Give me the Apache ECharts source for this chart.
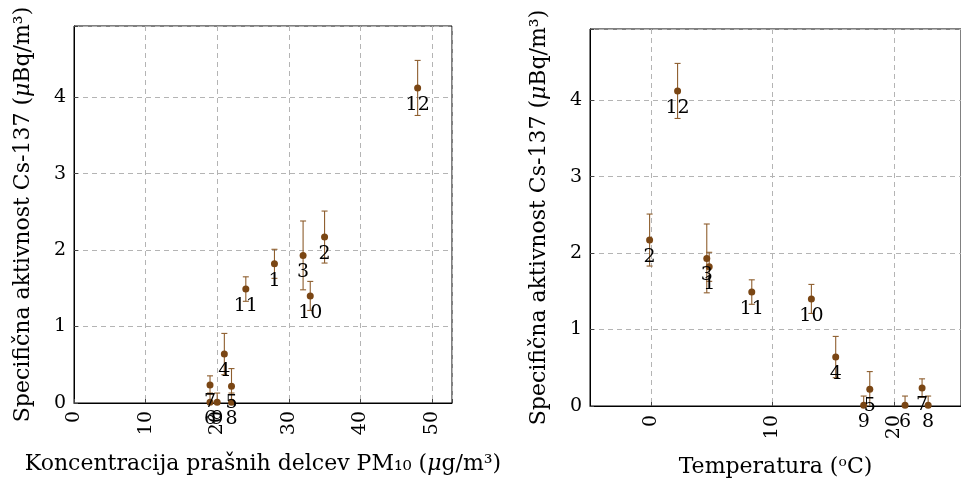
<!DOCTYPE html>
<html><head><meta charset="utf-8">
<script src="https://cdn.jsdelivr.net/npm/echarts@6/dist/echarts.min.js"></script>
<style>html,body{margin:0;padding:0;background:#fff}#c{width:961px;height:483px}</style>
</head><body><div id="c"></div>
<script>
// ---- data ----
const ids = ['1','2','3','4','5','6','7','8','9','10','11','12'];
const pm10 = [28, 35, 32, 21, 22, 19, 19, 22, 20, 33, 24, 48];
const temperature = [4.8, -0.1, 4.6, 15.2, 18.0, 20.9, 22.3, 22.8, 17.5, 13.2, 8.3, 2.2];
const activity = [1.82, 2.17, 1.93, 0.64, 0.22, 0.01, 0.235, 0.01, 0.01, 1.40, 1.49, 4.12];
const activityErr = [0.19, 0.34, 0.45, 0.27, 0.23, 0.12, 0.12, 0.12, 0.12, 0.19, 0.16, 0.36];
const pm10Ticks = [0, 10, 20, 30, 40, 50];
const tempTicks = [0, 10, 20];
const activityTicks = [0, 1, 2, 3, 4];

// ---- style ----
const FONT = 'DejaVu Serif';
const FS = 19;      // numbers
const TFS = 22;     // axis titles
const markerColor = '#7A4614';
const barColor = '#8E5E2E';
const gridLine = { show: true, lineStyle: { color: '#b4b4b4', type: [5, 4], width: 1 } };

const chart = echarts.init(document.getElementById('c'), null, { renderer: 'canvas' });

function errorBarItem(params, api) {
  const x = api.value(0), lo = api.value(1), hi = api.value(2);
  const top = api.coord([x, hi]);
  const bot = api.coord([x, lo]);
  const w = 3;
  const style = { stroke: barColor, lineWidth: 1.1 };
  return {
    type: 'group',
    children: [
      { type: 'line', shape: { x1: top[0], y1: top[1], x2: bot[0], y2: bot[1] }, style },
      { type: 'line', shape: { x1: top[0] - w, y1: top[1], x2: top[0] + w, y2: top[1] }, style },
      { type: 'line', shape: { x1: bot[0] - w, y1: bot[1], x2: bot[0] + w, y2: bot[1] }, style }
    ]
  };
}

function errData(xs) { return xs.map((x, i) => [x, activity[i] - activityErr[i], activity[i] + activityErr[i]]); }
function ptData(xs) { return xs.map((x, i) => ({ value: [x, activity[i]], name: ids[i] })); }

const yTitle = 'Specifična aktivnost Cs-137 ({i|μ}Bq/m³)';
const richI = { i: { fontStyle: 'italic', fontFamily: FONT, fontSize: TFS, color: '#000' } };
const titleStyle = { fontFamily: FONT, fontSize: TFS, color: '#000', rich: richI };

function yAxis(gridIndex) {
  return {
    gridIndex, type: 'value', min: 0, max: 4.93, interval: 1,
    name: yTitle, nameLocation: 'middle', nameGap: 40, nameRotate: 90,
    nameTextStyle: titleStyle,
    axisLine: { show: true, onZero: false, lineStyle: { color: '#000', width: 1 } },
    axisTick: { show: true, inside: true, length: 4, lineStyle: { color: '#444' } },
    axisLabel: { fontFamily: FONT, fontSize: FS, color: '#000', margin: 8,
      formatter: v => activityTicks.includes(v) ? String(v) : '' },
    splitLine: gridLine
  };
}

const option = {
  backgroundColor: '#fff',
  animation: false,
  grid: [
    { left: 74, top: 26, width: 378, height: 377, show: true, borderColor: '#000', borderWidth: 1, backgroundColor: 'transparent' },
    { left: 590, top: 29, width: 377, height: 377, show: true, borderColor: '#000', borderWidth: 1, backgroundColor: 'transparent' }
  ],
  xAxis: [
    {
      gridIndex: 0, type: 'value', min: 0, max: 52.8, interval: 10,
      name: 'Koncentracija prašnih delcev PM₁₀ ({i|μ}g/m³)', nameLocation: 'middle', nameGap: 50,
      nameTextStyle: titleStyle,
      axisLine: { show: true, onZero: false, lineStyle: { color: '#000', width: 1 } },
      axisTick: { show: true, inside: true, length: 4, lineStyle: { color: '#444' } },
      axisLabel: { rotate: 90, fontFamily: FONT, fontSize: FS, color: '#000', margin: 8,
        formatter: v => pm10Ticks.includes(v) ? String(v) : '' },
      splitLine: gridLine
    },
    {
      gridIndex: 1, type: 'value', min: -5, max: 25.5,
      name: 'Temperatura (ᵒC)', nameLocation: 'middle', nameGap: 50,
      nameTextStyle: titleStyle,
      axisLine: { show: true, onZero: false, lineStyle: { color: '#000', width: 1 } },
      axisTick: { show: true, inside: true, length: 4, customValues: tempTicks, lineStyle: { color: '#444' } },
      axisLabel: { rotate: 90, fontFamily: FONT, fontSize: FS, color: '#000', margin: 9, customValues: tempTicks },
      splitLine: gridLine
    }
  ],
  yAxis: [yAxis(0), yAxis(1)],
  series: [
    { type: 'custom', xAxisIndex: 0, yAxisIndex: 0, renderItem: errorBarItem, data: errData(pm10),
      encode: { x: 0, y: [1, 2] }, clip: true, z: 2, silent: true },
    { type: 'custom', xAxisIndex: 1, yAxisIndex: 1, renderItem: errorBarItem, data: errData(temperature),
      encode: { x: 0, y: [1, 2] }, clip: true, z: 2, silent: true },
    { type: 'scatter', xAxisIndex: 0, yAxisIndex: 0, data: ptData(pm10), symbolSize: 7,
      itemStyle: { color: markerColor, opacity: 1 }, z: 3,
      label: { show: true, position: 'inside', offset: [0, 17], formatter: p => p.name,
        fontFamily: FONT, fontSize: FS, color: '#000' } },
    { type: 'scatter', xAxisIndex: 1, yAxisIndex: 1, data: ptData(temperature), symbolSize: 7,
      itemStyle: { color: markerColor, opacity: 1 }, z: 3,
      label: { show: true, position: 'inside', offset: [0, 17], formatter: p => p.name,
        fontFamily: FONT, fontSize: FS, color: '#000' } }
  ]
};
chart.setOption(option);
</script>
</body></html>
